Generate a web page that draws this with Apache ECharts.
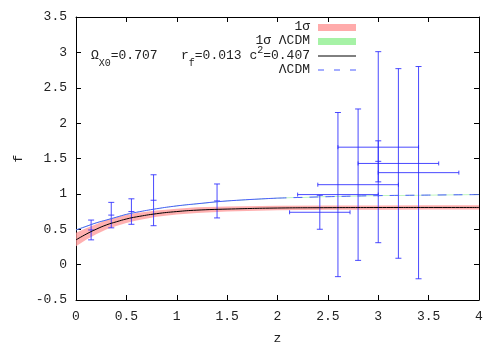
<!DOCTYPE html>
<html>
<head>
<meta charset="utf-8">
<script src="https://cdn.jsdelivr.net/npm/echarts@6/dist/echarts.min.js"></script>
<style>
  html, body { margin: 0; padding: 0; background: #fff; }
  #main { width: 500px; height: 350px; }
</style>
</head>
<body>
<div id="main"></div>
<script>
// curve sampling points (z)
const zGrid = [0, 0.1, 0.2, 0.3, 0.4, 0.5, 0.6, 0.8, 1.0, 1.2, 1.5, 2.0, 2.5, 3.0, 3.5, 4.0];
// best fit model, with 1 sigma band
const fModel   = [0.35, 0.43, 0.50, 0.56, 0.605, 0.645, 0.675, 0.72, 0.75, 0.77, 0.785, 0.80, 0.805, 0.807, 0.808, 0.808];
const fModelLo = [0.26, 0.35, 0.43, 0.495, 0.545, 0.59, 0.625, 0.675, 0.71, 0.73, 0.75, 0.767, 0.775, 0.777, 0.778, 0.778];
const fModelHi = [0.45, 0.515, 0.57, 0.63, 0.67, 0.70, 0.73, 0.765, 0.79, 0.81, 0.82, 0.833, 0.835, 0.837, 0.838, 0.838];
// LCDM curve, with its (very thin) 1 sigma band
const fLcdm    = [0.49, 0.54, 0.59, 0.63, 0.67, 0.71, 0.74, 0.79, 0.83, 0.86, 0.90, 0.94, 0.96, 0.975, 0.983, 0.99];
const fLcdmLo  = [0.485, 0.535, 0.585, 0.625, 0.665, 0.705, 0.735, 0.785, 0.825, 0.855, 0.895, 0.935, 0.955, 0.97, 0.978, 0.985];
const fLcdmHi  = [0.495, 0.545, 0.595, 0.635, 0.675, 0.715, 0.745, 0.795, 0.835, 0.865, 0.905, 0.945, 0.965, 0.98, 0.988, 0.995];

// growth data points
const zData  = [0.15, 0.35, 0.55, 0.77, 1.4, 3.0, 2.42, 2.6, 2.8, 3.0, 3.2, 3.4];
const fData  = [0.49, 0.70, 0.75, 0.91, 0.90, 1.46, 0.74, 0.99, 1.13, 1.66, 1.43, 1.30];
const dfData = [0.14, 0.18, 0.18, 0.36, 0.24, 0.29, 0.24, 1.16, 1.07, 1.35, 1.34, 1.50];
const dzData = [0, 0, 0, 0, 0, 0, 0.3, 0.4, 0.4, 0.4, 0.4, 0.4];

const xTicks = [0, 4, 0.5];
const yTicks = [-0.5, 3.5, 0.5];

const FONT = 'Liberation Mono';
const BLUE = '#2a2aff';

var myChart = echarts.init(document.getElementById('main'));

function bandSeries(lo, hi, color) {
  return {
    type: 'custom',
    xAxisIndex: 0,
    yAxisIndex: 0,
    silent: true,
    data: [[0, 0]],
    renderItem: function (params, api) {
      var pts = [];
      for (var i = 0; i < zGrid.length; i++) pts.push(api.coord([zGrid[i], hi[i]]));
      for (var j = zGrid.length - 1; j >= 0; j--) pts.push(api.coord([zGrid[j], lo[j]]));
      return { type: 'polygon', shape: { points: pts }, style: { fill: color, stroke: null } };
    }
  };
}

function axisCommon(range, pos, show) {
  return {
    type: 'value',
    min: range[0], max: range[1], interval: range[2],
    position: pos,
    axisLine: { show: true, onZero: false, lineStyle: { color: '#000', width: 1 } },
    axisTick: { show: true, inside: true, length: 5, lineStyle: { color: '#000' } },
    axisLabel: { show: show, fontFamily: FONT, fontSize: 13, color: '#222' },
    splitLine: { show: false }
  };
}

var lcdmSolid = [], lcdmDash = [];
zGrid.forEach(function (z, i) {
  if (z <= 2.0) lcdmSolid.push([z, fLcdm[i]]);
  if (z >= 2.0) lcdmDash.push([z, fLcdm[i]]);
});

var errData = zData.map(function (z, i) { return [z, fData[i], dzData[i], dfData[i]]; });

var option = {
  animation: false,
  grid: { left: 76, right: 21, top: 17, bottom: 45, containLabel: false },
  xAxis: [
    Object.assign(axisCommon(xTicks, 'bottom', true), {
      name: 'z', nameLocation: 'middle', nameGap: 32,
      nameTextStyle: { fontFamily: FONT, fontSize: 13, color: '#222' },
      axisLabel: { show: true, fontFamily: FONT, fontSize: 13, color: '#222', margin: 10 }
    }),
    axisCommon(xTicks, 'top', false)
  ],
  yAxis: [
    Object.assign(axisCommon(yTicks, 'left', true), {
      name: 'f', nameLocation: 'middle', nameGap: 49, nameRotate: 90,
      nameTextStyle: { fontFamily: FONT, fontSize: 13, color: '#222' },
      axisLabel: { show: true, fontFamily: FONT, fontSize: 13, color: '#222', margin: 9 }
    }),
    axisCommon(yTicks, 'right', false)
  ],
  series: [
    bandSeries(fModelLo, fModelHi, 'rgba(255,150,150,0.75)'),
    bandSeries(fLcdmLo, fLcdmHi, 'rgba(150,240,150,0.8)'),
    {
      type: 'line', xAxisIndex: 0, yAxisIndex: 0, smooth: true, showSymbol: false, silent: true,
      data: zGrid.map(function (z, i) { return [z, fModel[i]]; }),
      lineStyle: { color: '#000', width: 1 }
    },
    {
      type: 'line', xAxisIndex: 0, yAxisIndex: 0, smooth: true, showSymbol: false, silent: true,
      data: lcdmSolid,
      lineStyle: { color: '#4a5cff', width: 1 }
    },
    {
      type: 'line', xAxisIndex: 0, yAxisIndex: 0, smooth: true, showSymbol: false, silent: true,
      data: lcdmDash,
      lineStyle: { color: '#4a5cff', width: 1, type: [9, 7] }
    },
    {
      type: 'custom', xAxisIndex: 0, yAxisIndex: 0, silent: true,
      data: errData,
      renderItem: function (params, api) {
        var z = api.value(0), f = api.value(1), dz = api.value(2), df = api.value(3);
        var top = api.coord([z, f + df]);
        var bot = api.coord([z, f - df]);
        var c = api.coord([z, f]);
        var st = { stroke: BLUE, lineWidth: 1, opacity: 0.85 };
        var kids = [
          { type: 'line', shape: { x1: top[0], y1: top[1], x2: bot[0], y2: bot[1] }, style: st },
          { type: 'line', shape: { x1: top[0] - 3, y1: top[1], x2: top[0] + 3, y2: top[1] }, style: st },
          { type: 'line', shape: { x1: bot[0] - 3, y1: bot[1], x2: bot[0] + 3, y2: bot[1] }, style: st }
        ];
        if (dz > 0) {
          var l = api.coord([z - dz, f]);
          var r = api.coord([z + dz, f]);
          kids.push({ type: 'line', shape: { x1: l[0], y1: l[1], x2: r[0], y2: r[1] }, style: st });
          kids.push({ type: 'line', shape: { x1: l[0], y1: l[1] - 2, x2: l[0], y2: l[1] + 2 }, style: st });
          kids.push({ type: 'line', shape: { x1: r[0], y1: r[1] - 2, x2: r[0], y2: r[1] + 2 }, style: st });
        } else {
          kids.push({ type: 'line', shape: { x1: c[0] - 3, y1: c[1], x2: c[0] + 3, y2: c[1] }, style: st });
        }
        return { type: 'group', children: kids };
      }
    }
  ],
  graphic: [
    { type: 'text', right: 190, top: 20, style: { text: '1σ', font: '13px ' + FONT, fill: '#222' } },
    { type: 'rect', shape: { x: 318, y: 24, width: 38, height: 7 }, style: { fill: 'rgba(255,150,150,0.8)' } },
    { type: 'text', right: 190, top: 34, style: { text: '1σ ΛCDM', font: '13px ' + FONT, fill: '#222' } },
    { type: 'rect', shape: { x: 318, y: 38, width: 38, height: 7 }, style: { fill: 'rgba(150,240,150,0.85)' } },
    {
      type: 'text', right: 190, top: 43,
      style: {
        text: '{n|Ω}{s|X0}{n|=0.707   r}{s|f}{n|=0.013 c}{p|2}{n|=0.407}',
        fill: '#222',
        rich: {
          n: { fontFamily: FONT, fontSize: 13, lineHeight: 26, verticalAlign: 'middle' },
          s: { fontFamily: FONT, fontSize: 10, lineHeight: 26, verticalAlign: 'bottom', padding: [0, 0, 1, 0] },
          p: { fontFamily: FONT, fontSize: 10, lineHeight: 26, verticalAlign: 'top', padding: [2, 0, 0, 0] }
        }
      }
    },
    { type: 'line', shape: { x1: 318, y1: 56, x2: 356, y2: 56 }, style: { stroke: '#000', lineWidth: 1 } },
    { type: 'text', right: 190, top: 63, style: { text: 'ΛCDM', font: '13px ' + FONT, fill: '#222' } },
    { type: 'line', shape: { x1: 318, y1: 70, x2: 356, y2: 70 }, style: { stroke: '#4a5cff', lineWidth: 1, lineDash: [6, 10] } }
  ]
};

option && myChart.setOption(option);
</script>
</body>
</html>
